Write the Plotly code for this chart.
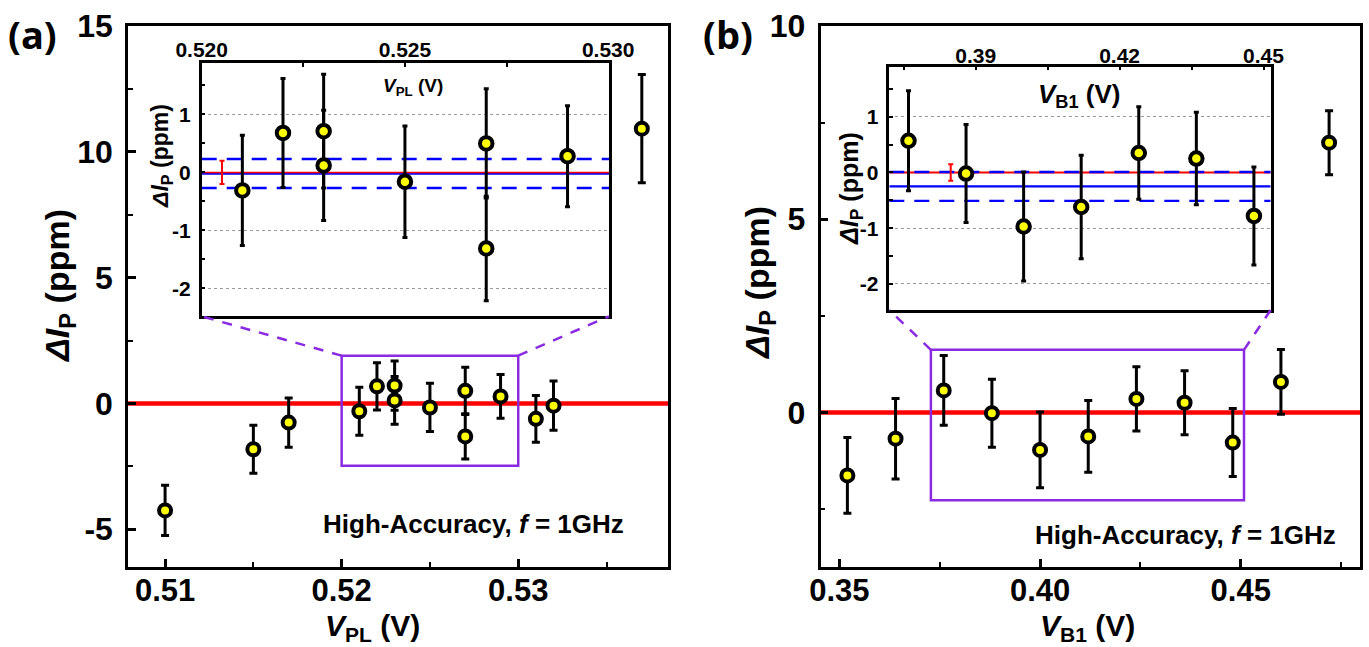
import plotly.graph_objects as go

# ---------------- data ----------------
# panel (a): Delta I_P vs V_PL
vpl = [0.510, 0.515, 0.517, 0.521, 0.522, 0.523, 0.523, 0.525, 0.527, 0.527, 0.529, 0.531, 0.532, 0.537]
dip_a = [-4.25, -1.82, -0.76, -0.31, 0.68, 0.71, 0.12, -0.16, 0.50, -1.31, 0.28, -0.61, -0.09, 10.92]
err_a = [1.00, 0.95, 0.98, 0.95, 0.94, 0.98, 0.95, 0.96, 0.94, 0.90, 0.87, 0.93, 0.98, 2.15]

# panel (b): Delta I_P vs V_B1
vb1 = [0.352, 0.364, 0.376, 0.388, 0.400, 0.412, 0.424, 0.436, 0.448, 0.460, 0.472]
dip_b = [-1.63, -0.68, 0.57, -0.02, -0.97, -0.62, 0.35, 0.25, -0.78, 0.79, 6.98]
err_b = [0.98, 1.04, 0.90, 0.88, 0.98, 0.93, 0.83, 0.83, 0.88, 0.84, 0.83]

# inset reference levels (mean and +/- band) and reference error bar
mean_a, band_a = -0.02, 0.25
mean_b, band_b = -0.25, 0.26
ref_x_a, ref_y_a, ref_e_a = [0.5205], [0.0], [0.20]
ref_x_b, ref_y_b, ref_e_b = [0.3848], [0.0], [0.15]

# zoom boxes drawn on the main panels
box_a_x, box_a_y = [0.520, 0.530], [-2.48, 1.90]
box_b_x, box_b_y = [0.3728, 0.4508], [-2.27, 1.62]

# axis ranges and ticks
rng_ax, rng_ay = [0.5079, 0.5385], [-6.5, 15]
rng_bx, rng_by = [0.3453, 0.4797], [-4.0, 10]
rng_aix, rng_aiy = [0.5200, 0.53002], [-2.48, 1.88]
rng_bix, rng_biy = [0.3720, 0.4515], [-2.47, 1.90]

xt_a = [0.51, 0.52, 0.53]
xt_a_lab = ["0.51", "0.52", "0.53"]
yt_a = [-5, 0, 5, 10, 15]
yt_a_lab = ["-5", "0", "5", "10", "15"]
xt_b = [0.35, 0.40, 0.45]
xt_b_lab = ["0.35", "0.40", "0.45"]
yt_b = [0, 5, 10]
yt_b_lab = ["0", "5", "10"]
xt_ai = [0.520, 0.525, 0.530]
xt_ai_lab = ["0.520", "0.525", "0.530"]
xt_bi = [0.39, 0.42, 0.45]
xt_bi_lab = ["0.39", "0.42", "0.45"]
yt_in = [-2, -1, 0, 1]
yt_in_lab = ["-2", "-1", "0", "1"]

# ---------------- layout geometry (pixels) ----------------
W, H = 1369, 647
def fx(px):
    return px / W
def fy(py):
    return 1 - py / H

dom_a_x = [fx(128), fx(668.3)]
dom_main_y = [fy(567), fy(26)]
dom_ai_x = [fx(201.7), fx(609)]
dom_ai_y = [fy(316.3), fy(63.3)]
dom_b_x = [fx(820.5), fx(1360)]
dom_bi_x = [fx(889.3), fx(1270.7)]
dom_bi_y = [fy(310), fy(66.7)]

def to_paper(v, rng, dom):
    return dom[0] + (v - rng[0]) / (rng[1] - rng[0]) * (dom[1] - dom[0])

FONT = "Liberation Sans, Arial, sans-serif"
YELLOW = "#FFFF00"
PURPLE = "#8A2BE2"

fig = go.Figure()

def add_points(x, y, e, xa, ya, msize, lw, eth, ew):
    fig.add_trace(go.Scatter(
        x=x, y=y, mode="markers", xaxis=xa, yaxis=ya, showlegend=False,
        marker=dict(size=1, color="rgba(0,0,0,0)"),
        error_y=dict(type="data", array=e, color="black", thickness=eth, width=ew),
        hoverinfo="skip"))
    fig.add_trace(go.Scatter(
        x=x, y=y, mode="markers", xaxis=xa, yaxis=ya, showlegend=False,
        marker=dict(size=msize, color=YELLOW, line=dict(color="black", width=lw))))

def hline(rng, yv, xa, ya, color, width, dash="solid"):
    fig.add_trace(go.Scatter(
        x=rng, y=[yv, yv], mode="lines", xaxis=xa, yaxis=ya, showlegend=False,
        line=dict(color=color, width=width, dash=dash), hoverinfo="skip"))

# ---- panel (a) main ----
hline(rng_ax, 0, "x", "y", "#FF0000", 4.5)
add_points(vpl, dip_a, err_a, "x", "y", 12, 4, 3, 4)

# ---- panel (a) inset ----
hline(rng_aix, mean_a, "x2", "y2", "#0000FF", 2.4)
hline(rng_aix, 0, "x2", "y2", "#FF0000", 1.5)
hline(rng_aix, mean_a + band_a, "x2", "y2", "#0000FF", 2.4, "15px,10px")
hline(rng_aix, mean_a - band_a, "x2", "y2", "#0000FF", 2.4, "15px,10px")
fig.add_trace(go.Scatter(x=ref_x_a, y=ref_y_a, mode="markers", xaxis="x2", yaxis="y2",
                         showlegend=False, marker=dict(size=1, color="rgba(0,0,0,0)"),
                         error_y=dict(type="data", array=ref_e_a, color="#FF0000",
                                      thickness=2, width=2.5)))
ins_a = [i for i, v in enumerate(vpl) if rng_aix[0] <= v <= rng_aix[1]]
add_points([vpl[i] for i in ins_a], [dip_a[i] for i in ins_a], [err_a[i] for i in ins_a],
           "x2", "y2", 12.5, 4, 3, 2.5)

# ---- panel (b) main ----
hline(rng_bx, 0, "x3", "y3", "#FF0000", 4.5)
add_points(vb1, dip_b, err_b, "x3", "y3", 12, 4, 3, 4)

# ---- panel (b) inset ----
hline(rng_bix, 0, "x4", "y4", "#FF0000", 2)
hline(rng_bix, mean_b, "x4", "y4", "#0000FF", 2.4)
hline(rng_bix, mean_b + band_b, "x4", "y4", "#0000FF", 2.4, "15px,10px")
hline(rng_bix, mean_b - band_b, "x4", "y4", "#0000FF", 2.4, "15px,10px")
fig.add_trace(go.Scatter(x=ref_x_b, y=ref_y_b, mode="markers", xaxis="x4", yaxis="y4",
                         showlegend=False, marker=dict(size=1, color="rgba(0,0,0,0)"),
                         error_y=dict(type="data", array=ref_e_b, color="#FF0000",
                                      thickness=2, width=2.5)))
ins_b = [i for i, v in enumerate(vb1) if rng_bix[0] <= v <= rng_bix[1]]
add_points([vb1[i] for i in ins_b], [dip_b[i] for i in ins_b], [err_b[i] for i in ins_b],
           "x4", "y4", 12.5, 4, 3, 2.5)

# ---------------- axes ----------------
def main_x(dom, rng, tv, tt, anchor, minor_dt, minor_t0):
    return dict(domain=dom, range=rng, anchor=anchor, tickvals=tv, ticktext=tt,
                automargin=False,
                showline=True, linewidth=2.5, linecolor="black", mirror=True,
                ticks="inside", ticklen=8, tickwidth=2.5, tickcolor="black",
                minor=dict(ticks="inside", ticklen=5, tickwidth=2, tickcolor="black",
                           dtick=minor_dt, tick0=minor_t0, showgrid=False),
                showgrid=False, zeroline=False, ticklabelstandoff=-6,
                tickfont=dict(family=FONT, size=31, color="black", weight="bold"))

def main_y(dom, rng, tv, tt, anchor):
    return dict(domain=dom, range=rng, anchor=anchor, tickvals=tv, ticktext=tt,
                automargin=False,
                showline=True, linewidth=2.5, linecolor="black", mirror=True,
                ticks="inside", ticklen=8, tickwidth=2.5, tickcolor="black",
                minor=dict(ticks="inside", ticklen=5, tickwidth=2, tickcolor="black",
                           dtick=2.5, tick0=0, showgrid=False),
                showgrid=False, zeroline=False, ticklabelstandoff=6,
                tickfont=dict(family=FONT, size=32, color="black", weight="bold"))

def inset_x(dom, rng, tv, tt, anchor, minor_dt, minor_t0, fsize, standoff):
    return dict(domain=dom, range=rng, anchor=anchor, side="top", tickvals=tv, ticktext=tt,
                automargin=False,
                showline=True, linewidth=2.5, linecolor="black", mirror=True,
                ticks="inside", ticklen=4, tickwidth=2, tickcolor="black",
                minor=dict(ticks="inside", ticklen=4, tickwidth=2, tickcolor="black",
                           dtick=minor_dt, tick0=minor_t0, showgrid=False),
                showgrid=False, zeroline=False, ticklabelstandoff=standoff,
                tickfont=dict(family=FONT, size=fsize, color="black", weight="bold"))

def inset_y(dom, rng, anchor, fsize):
    return dict(domain=dom, range=rng, anchor=anchor, tickvals=yt_in, ticktext=yt_in_lab,
                automargin=False,
                showline=True, linewidth=2.5, linecolor="black", mirror=True,
                ticks="inside", ticklen=4, tickwidth=2, tickcolor="black",
                minor=dict(ticks="inside", ticklen=4, tickwidth=2, tickcolor="black",
                           dtick=0.5, tick0=0, showgrid=False),
                showgrid=True, gridcolor="#9a9a9a", gridwidth=1, griddash="dot",
                zeroline=False, ticklabelstandoff=4,
                tickfont=dict(family=FONT, size=fsize, color="black", weight="bold"))

fig.update_layout(
    xaxis=main_x(dom_a_x, rng_ax, xt_a, xt_a_lab, "y", 0.005, 0.505),
    yaxis=main_y(dom_main_y, rng_ay, yt_a, yt_a_lab, "x"),
    xaxis2=inset_x(dom_ai_x, rng_aix, xt_ai, xt_ai_lab, "y2", 0.0025, 0.5175, 21, -5),
    yaxis2=inset_y(dom_ai_y, rng_aiy, "x2", 21),
    xaxis3=main_x(dom_b_x, rng_bx, xt_b, xt_b_lab, "y3", 0.025, 0.325),
    yaxis3=main_y(dom_main_y, rng_by, yt_b, yt_b_lab, "x3"),
    xaxis4=inset_x(dom_bi_x, rng_bix, xt_bi, xt_bi_lab, "y4", 0.015, 0.375, 21, -7),
    yaxis4=inset_y(dom_bi_y, rng_biy, "x4", 21),
)

# ---------------- shapes: zoom boxes and connectors ----------------
shapes = []
shapes.append(dict(type="rect", xref="x", yref="y", x0=box_a_x[0], x1=box_a_x[1],
                   y0=box_a_y[0], y1=box_a_y[1], line=dict(color=PURPLE, width=2.5)))
shapes.append(dict(type="rect", xref="x3", yref="y3", x0=box_b_x[0], x1=box_b_x[1],
                   y0=box_b_y[0], y1=box_b_y[1], line=dict(color=PURPLE, width=2.5)))
conn = dict(color=PURPLE, width=2.5, dash="10px,9px")
for bx, by, rx, ry, dx, dy, idx, inset_bottom in [
        (box_a_x, box_a_y, rng_ax, rng_ay, dom_a_x, dom_main_y, dom_ai_x, dom_ai_y[0]),
        (box_b_x, box_b_y, rng_bx, rng_by, dom_b_x, dom_main_y, dom_bi_x, dom_bi_y[0])]:
    top = to_paper(by[1], ry, dy)
    for k in (0, 1):
        shapes.append(dict(type="line", xref="paper", yref="paper",
                           x0=to_paper(bx[k], rx, dx), y0=top,
                           x1=idx[k], y1=inset_bottom, line=conn))
fig.update_layout(shapes=shapes)

# ---------------- annotations ----------------
def ann(text, px, py, size, angle=0, family=FONT, xanchor="center"):
    return dict(text=text, x=fx(px), y=fy(py), xref="paper", yref="paper",
                xanchor=xanchor, yanchor="middle", showarrow=False, textangle=angle,
                font=dict(family=family, size=size, color="black", weight="bold"))

annotations = [
    ann("(a)", 32, 34, 38, family="Open Sans, sans-serif"),
    ann("(b)", 728, 34, 38, family="Open Sans, sans-serif"),
    ann("<i>ΔI</i><sub>P</sub> (ppm)", 60, 286, 34, angle=-90),
    ann("<i>ΔI</i><sub>P</sub> (ppm)", 760, 283, 34, angle=-90),
    ann("<i>V</i><sub>PL</sub> (V)", 372, 627, 30),
    ann("<i>V</i><sub>B1</sub> (V)", 1087, 627, 30),
    ann("High-Accuracy, <i>f</i> = 1GHz", 473, 524, 26),
    ann("High-Accuracy, <i>f</i> = 1GHz", 1185, 535, 26),
    ann("<i>V</i><sub>PL</sub> (V)", 413, 87, 19),
    ann("<i>V</i><sub>B1</sub> (V)", 1079, 96, 26),
    ann("<i>ΔI</i><sub>P</sub> (ppm)", 161, 156, 23, angle=-90),
    ann("<i>ΔI</i><sub>P</sub> (ppm)", 851, 189, 25, angle=-90),
]
fig.update_layout(annotations=annotations)

fig.update_layout(width=W, height=H, margin=dict(l=0, r=0, t=0, b=0, autoexpand=False),
                  paper_bgcolor="white", plot_bgcolor="white", showlegend=False,
                  font=dict(family=FONT, color="black"))

fig.write_html("out.html", config={"displayModeBar": False},
               post_script="document.body.style.margin='0';document.body.style.overflow='hidden';")
